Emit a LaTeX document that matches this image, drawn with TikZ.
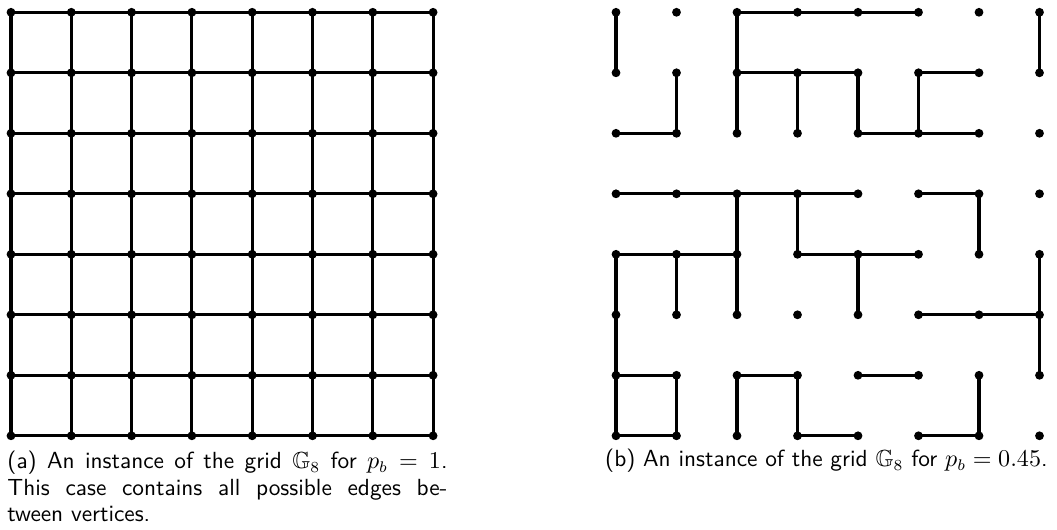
\documentclass[tikz,border=0pt]{standalone}
\usepackage{amssymb}
\begin{document}
\begin{tikzpicture}[x=0.4545pt,y=-0.4545pt,
  dot/.style={circle,fill=black,inner sep=0pt,minimum size=4.0pt},
  gedge/.style={line width=1.42pt},
  captext/.style={inner sep=0pt,font=\sffamily\fontsize{10.6}{11.95}\selectfont}]
\useasboundingbox (0,0) rectangle (1057,530);
% grid nodes
\foreach \i in {0,...,7}{
  \foreach \j in {0,...,7}{
    \node[dot] (L-\i-\j) at ({11+60.3*\i},{12.3+60.5*\j}) {};
    \node[dot] (R-\i-\j) at ({616+60.5*\i},{12.3+60.5*\j}) {};
  }
}
% left grid: all edges
\foreach \j in {0,...,7}{
  \foreach \i [evaluate=\i as \k using int(\i+1)] in {0,...,6}{
    \draw[gedge] (L-\i-\j.center) -- (L-\k-\j.center);
    \draw[gedge] (L-\j-\i.center) -- (L-\j-\k.center);
  }
}
% right grid: horizontal edges  c/r
\foreach \c/\r in {2/0,3/0,4/0, 2/1,3/1,5/1, 0/2,4/2,5/2, 0/3,1/3,2/3,3/3,5/3,
  0/4,1/4,3/4,4/4, 5/5,6/5, 0/6,2/6,4/6, 0/7,3/7,5/7}{
  \pgfmathtruncatemacro{\cc}{\c+1}
  \draw[gedge] (R-\c-\r.center) -- (R-\cc-\r.center);
}
% right grid: vertical edges c/r
\foreach \c/\r in {0/0,2/0,7/0, 1/1,2/1,3/1,4/1,5/1, 2/3,3/3,6/3,
  0/4,1/4,2/4,4/4,7/4, 0/5,7/5, 0/6,1/6,2/6,3/6,6/6}{
  \pgfmathtruncatemacro{\rr}{\r+1}
  \draw[gedge] (R-\c-\r.center) -- (R-\c-\rr.center);
}
% captions
\node[captext,anchor=base west,text width=200pt,align=justify] (capa) at (7,469)
  {(a) An instance of the grid $\mathbb{G}_8$ for $p_b=1$.\linebreak
   This case contains all possible edges be-\linebreak tween vertices.};
\node[captext,anchor=base east] (capb) at (1048,467)
  {(b) An instance of the grid $\mathbb{G}_8$ for $p_b=0.45$.};
\end{tikzpicture}
\end{document}
